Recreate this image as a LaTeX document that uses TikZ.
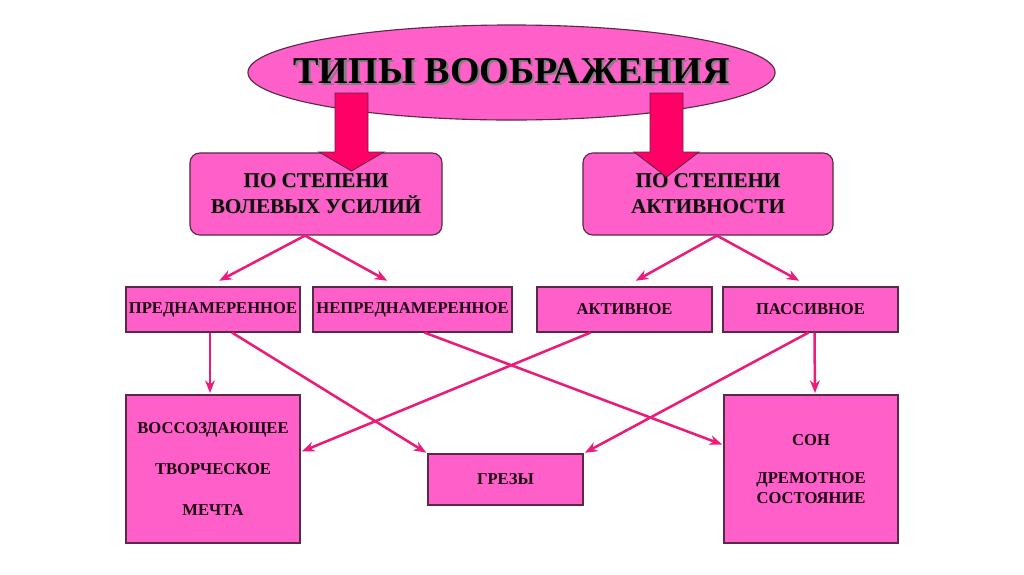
\documentclass[tikz,border=0pt]{standalone}
\usepackage{fontspec}
\setmainfont{Liberation Serif}
\usetikzlibrary{shapes.geometric,arrows.meta}
\definecolor{boxpink}{HTML}{FF5FC8}
\definecolor{boxink}{HTML}{5A2848}
\definecolor{arrowred}{HTML}{FF0066}
\definecolor{linkpink}{HTML}{EC1A78}
\definecolor{textink}{HTML}{1A0010}
\newcommand{\shadowed}[2]{\rlap{\kern#1\raisebox{-#1}{\color{gray}#2}}#2}

\begin{document}
\begin{tikzpicture}[x=0.025cm,y=-0.025cm,
  typebox/.style={draw=boxink, line width=0.8pt, fill=boxpink, rectangle, text=textink, font=\bfseries\fontsize{11.8}{14}\selectfont, align=center, inner sep=0pt},
  headbox/.style={typebox, rounded corners=7pt, minimum width=6.3cm, minimum height=2.05cm, font=\bfseries\fontsize{15}{18}\selectfont},
  rowbox/.style={typebox, minimum width=4.35cm, minimum height=1.125cm},
  bigbox/.style={typebox, minimum width=4.35cm, minimum height=3.7cm},
  blockarrow/.style={draw=boxink, line width=0.6pt, fill=arrowred},
  link/.style={draw=linkpink, line width=1.8pt, -{Stealth[length=9pt,width=7pt]}, shorten >=1pt}]
\useasboundingbox (0,0) rectangle (1024,574);
\node[ellipse, draw=boxink, line width=0.8pt, fill=boxpink, inner sep=0pt, minimum width=13.175cm, minimum height=2.375cm, text=black, font=\bfseries\fontsize{27}{32}\selectfont] (types) at (511.5,72.5) {\makebox[0pt]{\shadowed{1.5pt}{ТИПЫ ВООБРАЖЕНИЯ}}};
\node[headbox] (will) at (316,194) {\shadowed{0.6pt}{ПО СТЕПЕНИ}\\\shadowed{0.6pt}{ВОЛЕВЫХ УСИЛИЙ}};
\node[headbox, minimum width=6.25cm] (act) at (708,194) {\shadowed{0.6pt}{ПО СТЕПЕНИ}\\\shadowed{0.6pt}{АКТИВНОСТИ}};
\node[rowbox] (pred) at (213,309.5) {ПРЕДНАМЕРЕННОЕ};
\node[rowbox, minimum width=4.975cm] (nepred) at (412.5,309.5) {НЕПРЕДНАМЕРЕННОЕ};
\node[rowbox, minimum width=4.375cm] (active) at (624.5,309.5) {АКТИВНОЕ};
\node[rowbox, minimum width=4.375cm] (passive) at (810.5,309.5) {ПАССИВНОЕ};
\node[bigbox] (recreate) at (213,469) {ВОССОЗДАЮЩЕЕ\\[15pt]ТВОРЧЕСКОЕ\\[15pt]МЕЧТА};
\node[typebox, minimum width=3.875cm, minimum height=1.275cm] (dreams) at (505.5,479.5) {ГРЕЗЫ};
\node[bigbox] (sleep) at (811,469) {СОН\\[13pt]ДРЕМОТНОЕ\\СОСТОЯНИЕ};
\draw[blockarrow] (335,93) -- (368,93) -- (368,152) -- (384,152) -- (351.5,171) -- (319,152) -- (335,152) -- cycle;
\draw[blockarrow] (650,93) -- (683,93) -- (683,152) -- (699,152) -- (666.5,177) -- (634,152) -- (650,152) -- cycle;
\draw[link] ([xshift=-0.275cm]will.south) -- ([xshift=0.125cm,yshift=0.125cm]pred.north);
\draw[link] ([xshift=-0.275cm]will.south) -- ([xshift=-0.6cm,yshift=0.125cm]nepred.north);
\draw[link] ([xshift=0.225cm]act.south) -- ([xshift=0.25cm,yshift=0.125cm]active.north);
\draw[link] ([xshift=0.225cm]act.south) -- ([xshift=-0.25cm,yshift=0.125cm]passive.north);
\draw[link] ([xshift=-0.075cm]pred.south) -- ([xshift=-0.075cm]recreate.north);
\draw[link] ([xshift=0.475cm]pred.south) -- (dreams.north west);
\draw[link] ([xshift=0.3cm]nepred.south) -- ([yshift=0.6cm]sleep.west);
\draw[link] ([xshift=-0.85cm]active.south) -- ([yshift=0.425cm]recreate.east);
\draw[link] ([xshift=-0.05cm]passive.south) -- (dreams.north east);
\draw[link] ([xshift=0.1cm]passive.south) -- ([xshift=0.1cm]sleep.north);
\end{tikzpicture}
\end{document}
